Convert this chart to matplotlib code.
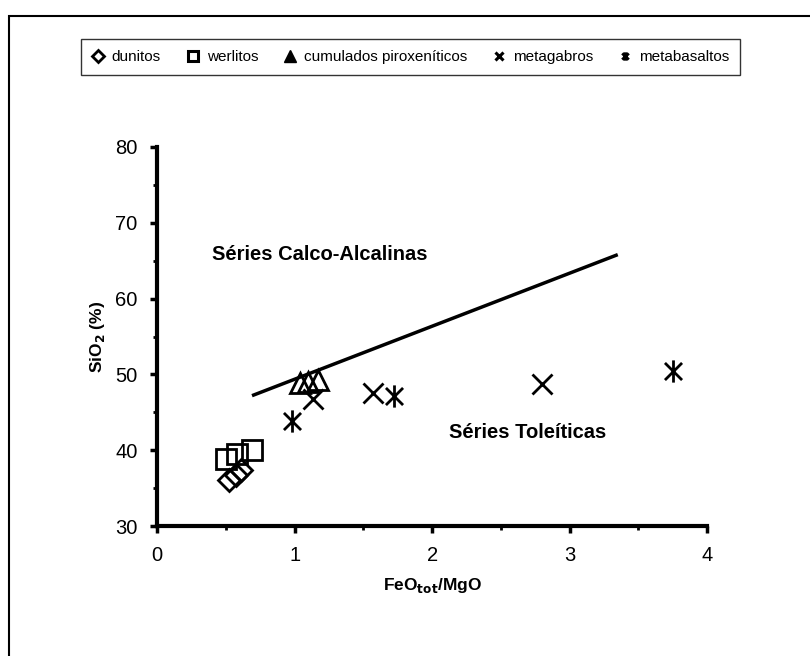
import numpy as np
import matplotlib.pyplot as plt
from matplotlib.path import Path
from matplotlib.patches import Rectangle
from matplotlib.lines import Line2D
from matplotlib.ticker import MultipleLocator

plt.rcParams["font.family"] = ["Liberation Sans", "DejaVu Sans"]

# datos
dunitos_x = [0.52, 0.57, 0.61]
dunitos_y = [36.1, 36.7, 37.4]
werlitos_x = [0.50, 0.58, 0.69]
werlitos_y = [38.9, 39.5, 40.0]
cumulados_x = [1.04, 1.10, 1.17]
cumulados_y = [48.9, 49.0, 49.3]
metagabros_x = [1.13, 1.57, 2.80]
metagabros_y = [46.7, 47.5, 48.8]
metabasaltos_x = [0.98, 1.72, 3.75]
metabasaltos_y = [43.8, 47.2, 50.4]

# línea de separación entre series
linea_x = [0.69, 3.35]
linea_y = [47.2, 65.8]

etiquetas = ["dunitos", "werlitos", "cumulados piroxeníticos", "metagabros", "metabasaltos"]

# marcador tipo asterisco (x + línea vertical)
asterisco = Path(
    [(-1, -1), (1, 1), (-1, 1), (1, -1), (0, -1.3), (0, 1.3)],
    [Path.MOVETO, Path.LINETO, Path.MOVETO, Path.LINETO, Path.MOVETO, Path.LINETO],
)

fig = plt.figure(figsize=(8.1, 6.56), dpi=100)
ax = fig.add_axes([0.194, 0.198, 0.679, 0.578])

ax.plot(linea_x, linea_y, color="black", lw=2.5, solid_capstyle="butt")

ax.plot(dunitos_x, dunitos_y, ls="none", marker="D", ms=11, mfc="none", mec="black", mew=2)
ax.plot(werlitos_x, werlitos_y, ls="none", marker="s", ms=15, mfc="none", mec="black", mew=2)
ax.plot(cumulados_x, cumulados_y, ls="none", marker="^", ms=15, mfc="none", mec="black", mew=2)
ax.plot(metagabros_x, metagabros_y, ls="none", marker="x", ms=15, mec="black", mew=2)
ax.plot(metabasaltos_x, metabasaltos_y, ls="none", marker=asterisco, ms=16, mec="black", mew=2)

ax.text(0.40, 65.8, "Séries Calco-Alcalinas", fontsize=14.5, fontweight="bold", va="center")
ax.text(2.12, 42.3, "Séries Toleíticas", fontsize=14.5, fontweight="bold", va="center")

ax.set_xlim(0, 4)
ax.set_ylim(30, 80)
ax.xaxis.set_major_locator(MultipleLocator(1))
ax.xaxis.set_minor_locator(MultipleLocator(0.5))
ax.yaxis.set_major_locator(MultipleLocator(10))
ax.yaxis.set_minor_locator(MultipleLocator(5))
ax.tick_params(which="major", direction="out", length=5, width=2.5, labelsize=14.5, pad=9)
ax.tick_params(which="minor", direction="out", length=3, width=2)

for lado in ["top", "right"]:
    ax.spines[lado].set_visible(False)
for lado in ["left", "bottom"]:
    ax.spines[lado].set_linewidth(3)

ax.set_xlabel("FeO$_{\\mathbf{tot}}$/MgO", fontsize=12.5, fontweight="bold", labelpad=8)
ax.set_ylabel("SiO$_{\\mathbf{2}}$ (%)", fontsize=12.5, fontweight="bold", labelpad=6)

# leyenda con marcadores pequeños
handles = [
    Line2D([], [], ls="none", marker="D", ms=6, mfc="white", mec="black", mew=2),
    Line2D([], [], ls="none", marker="s", ms=7, mfc="white", mec="black", mew=2.2),
    Line2D([], [], ls="none", marker="^", ms=8, color="black"),
    Line2D([], [], ls="none", marker="x", ms=6, mec="black", mew=2.2),
    Line2D([], [], ls="none", marker=asterisco, ms=6, mec="black", mew=2.2),
]
leg = fig.legend(handles, etiquetas, loc="center", bbox_to_anchor=(0.507, 0.913), ncol=5,
                 fontsize=11, frameon=True, fancybox=False, handlelength=0.8,
                 handletextpad=0.5, columnspacing=1.7, borderpad=0.7, borderaxespad=0)
leg.get_frame().set_edgecolor("black")
leg.get_frame().set_linewidth(1)

# marco exterior (solo se ven el borde superior y el izquierdo)
fig.patches.append(Rectangle((0.011, -0.1), 1.2, 1.0756, transform=fig.transFigure,
                             fill=False, edgecolor="black", lw=1.5))

plt.savefig("out.png", dpi=100)
